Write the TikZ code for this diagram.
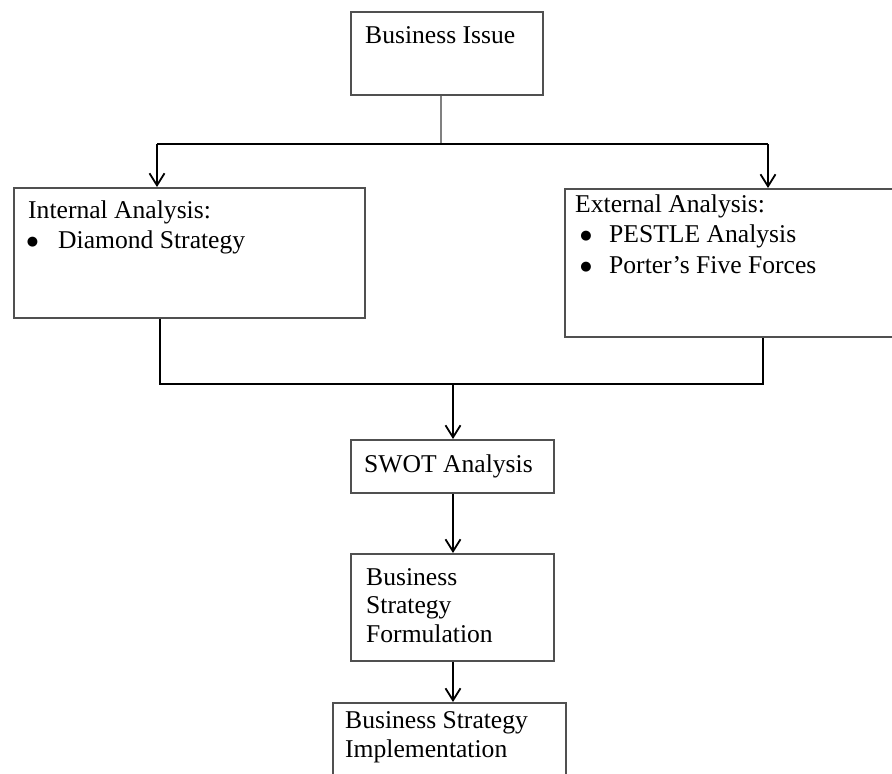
\documentclass[tikz,border=0pt]{standalone}
\usepackage{fontspec}
\setmainfont{Liberation Serif}
\newfontfamily\dejavu{DejaVu Sans}
\usetikzlibrary{arrows.meta}
\definecolor{boxgray}{HTML}{505050}
\definecolor{stemgray}{HTML}{808080}
\tikzset{
  box/.style={draw=boxgray, line width=1.5pt, rectangle, inner sep=0pt, anchor=north west, fill=white},
  txt/.style={anchor=base west, inner sep=0pt, font=\fontsize{25.6pt}{29pt}\selectfont},
  bul/.style={anchor=center, inner sep=0pt, font=\dejavu\fontsize{13pt}{13pt}\selectfont},
  conn/.style={draw=black, line width=2pt},
  arr/.style={conn, -{Straight Barb[length=12pt,width=15pt,line width=1.8pt]}},
}
\begin{document}
\begin{tikzpicture}[x=1pt,y=-1pt]
\useasboundingbox (0,0) rectangle (892,774);
% boxes
\node[box, minimum width=192pt, minimum height=83pt] (bi) at (350,11) {};
\node[box, minimum width=351pt, minimum height=130pt] (int) at (13,187) {};
\node[box, minimum width=340pt, minimum height=148pt] (ext) at (564,188) {};
\node[box, minimum width=203pt, minimum height=53pt] (swot) at (350,439) {};
\node[box, minimum width=203pt, minimum height=107pt] (bsf) at (350,553) {};
\node[box, minimum width=233pt, minimum height=90pt] (bsi) at (332,702) {};
% texts
\node[txt] (t1) at (365,43) {Business Issue};
\node[txt] (t2) at (28,218) {Internal Analysis:};
\node[bul] (t3) at (32.5,242) {●};
\node[txt] (t4) at (58,248) {Diamond Strategy};
\node[txt] (t5) at (575,212) {External Analysis:};
\node[bul] (t6) at (586,236) {●};
\node[txt] (t7) at (609,242) {PESTLE Analysis};
\node[bul] (t8) at (586,267) {●};
\node[txt] (t9) at (609,273) {Porter’s Five Forces};
\node[txt] (t10) at (364,472) {SWOT Analysis};
\node[txt] (t11) at (366,585) {Business};
\node[txt] (t12) at (366,613) {Strategy};
\node[txt] (t13) at (366,642) {Formulation};
\node[txt] (t14) at (345,728) {Business Strategy};
\node[txt] (t15) at (345,757) {Implementation};
% junction coordinates
\coordinate (j0) at (441,144);
\coordinate (jl) at (157,144);
\coordinate (jr) at (768,144);
\coordinate (kl) at (160,384);
\coordinate (kr) at (763,384);
\coordinate (km) at (453,384);
% connectors
\draw[draw=stemgray, line width=2pt] (bi.south -| j0) -- (j0);
\draw[conn] (jl) -- (jr);
\draw[arr] (jl) -- (jl |- int.north);
\draw[arr] (jr) -- (jr |- ext.north);
\draw[conn] (kl |- int.south) -- (kl) -- (kr) -- (kr |- ext.south);
\draw[arr] (km) -- (km |- swot.north);
\draw[arr] (km |- swot.south) -- (km |- bsf.north);
\draw[arr] (km |- bsf.south) -- (km |- bsi.north);
\end{tikzpicture}
\end{document}
